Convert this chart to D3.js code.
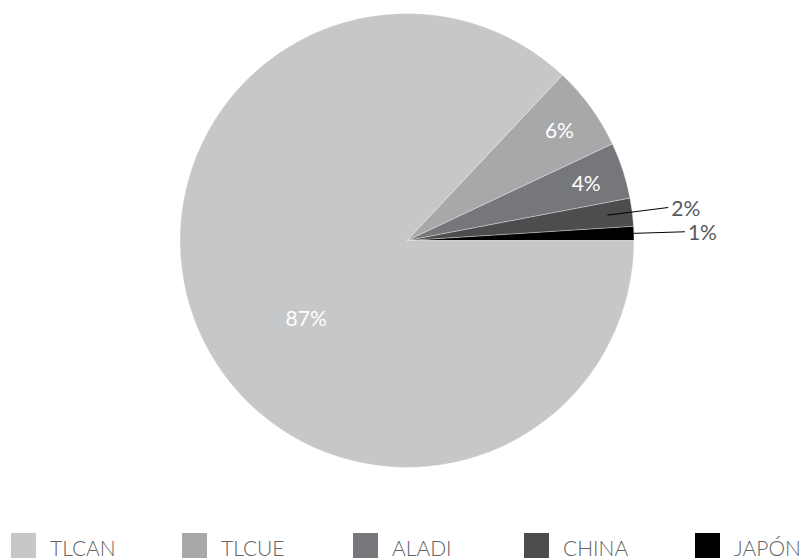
<!DOCTYPE html>
<html>
<head>
<meta charset="utf-8">
<script src="https://cdn.jsdelivr.net/npm/d3@7"></script>
<style>
  html, body { margin: 0; padding: 0; background: #ffffff; }
  svg { display: block; font-family: "Lato", "Open Sans", sans-serif; }
</style>
</head>
<body>
<svg id="chart" width="806" height="560"></svg>
<script>
// Share of trade by agreement / partner
const categories = ["TLCAN", "TLCUE", "ALADI", "CHINA", "JAPÓN"];
const shares = [87, 6, 4, 2, 1];
const shareLabels = ["87%", "6%", "4%", "2%", "1%"];
const colors = ["#c6c7c9", "#a7a8aa", "#76777a", "#4d4d4f", "#000000"];

const W = 806, H = 560;
const cx = 407, cy = 240.5, R = 227;

const svg = d3.select("#chart");

const records = categories.map((name, i) => ({
  name, value: shares[i], label: shareLabels[i], color: colors[i]
}));

// Slices start at 3 o'clock and run counter-clockwise, smallest first
const pie = d3.pie()
  .value(d => d.value)
  .sort(null)
  .startAngle(Math.PI / 2)
  .endAngle(Math.PI / 2 - 2 * Math.PI);

const arcs = pie(records.slice().reverse());

const arc = d3.arc().innerRadius(0).outerRadius(R);

const g = svg.append("g").attr("transform", `translate(${cx},${cy})`);

g.selectAll("path.slice")
  .data(arcs)
  .join("path")
  .attr("class", "slice")
  .attr("d", arc)
  .attr("fill", d => d.data.color)
  .attr("stroke", "#ffffff")
  .attr("stroke-opacity", 0.55)
  .attr("stroke-width", 0.6);

// Label placement: position along the slice (0..1) and radius as a fraction of R
const inside = {
  TLCAN: { t: 0.545, r: 0.56 },
  TLCUE: { t: 0.5, r: 0.83 },
  ALADI: { t: 0.5, r: 0.83 }
};
const outside = {
  CHINA: { r0: 0.89, r1: 1.16 },
  "JAPÓN": { r0: 1.0, r1: 1.225 }
};

function point(angle, radius) {
  // d3 arc angles: 0 at 12 o'clock, clockwise
  return [Math.sin(angle) * radius, -Math.cos(angle) * radius];
}

arcs.forEach(d => {
  const name = d.data.name;
  if (inside[name]) {
    const p = inside[name];
    const a = d.startAngle + (d.endAngle - d.startAngle) * p.t;
    const [x, y] = point(a, R * p.r);
    g.append("text")
      .attr("x", x).attr("y", y)
      .attr("text-anchor", "middle")
      .attr("dominant-baseline", "central")
      .attr("fill", "#ffffff")
      .attr("font-size", 21)
      .attr("font-weight", 400)
      .text(d.data.label);
  } else if (outside[name]) {
    const p = outside[name];
    const a = (d.startAngle + d.endAngle) / 2;
    const [x0, y0] = point(a, R * p.r0);
    const [x1, y1] = point(a, R * p.r1);
    g.append("line")
      .attr("x1", x0).attr("y1", y0)
      .attr("x2", x1).attr("y2", y1)
      .attr("stroke", "#000000")
      .attr("stroke-width", 1);
    g.append("text")
      .attr("x", x1 + 3).attr("y", y1)
      .attr("text-anchor", "start")
      .attr("dominant-baseline", "central")
      .attr("fill", "#58595b")
      .attr("font-size", 21)
      .attr("font-weight", 400)
      .text(d.data.label);
  }
});

// Legend
const legendX = d3.scalePoint().domain(categories).range([11, 695]);
const legend = svg.append("g").attr("transform", "translate(0,533)");
const item = legend.selectAll("g.item")
  .data(records)
  .join("g")
  .attr("class", "item")
  .attr("transform", d => `translate(${legendX(d.name)},0)`);
item.append("rect")
  .attr("width", 25).attr("height", 25)
  .attr("fill", d => d.color);
item.append("text")
  .attr("x", 39).attr("y", 14)
  .attr("dominant-baseline", "central")
  .attr("fill", "#636466")
  .attr("font-size", 21)
  .attr("font-weight", 300)
  .text(d => d.name);
</script>
</body>
</html>
